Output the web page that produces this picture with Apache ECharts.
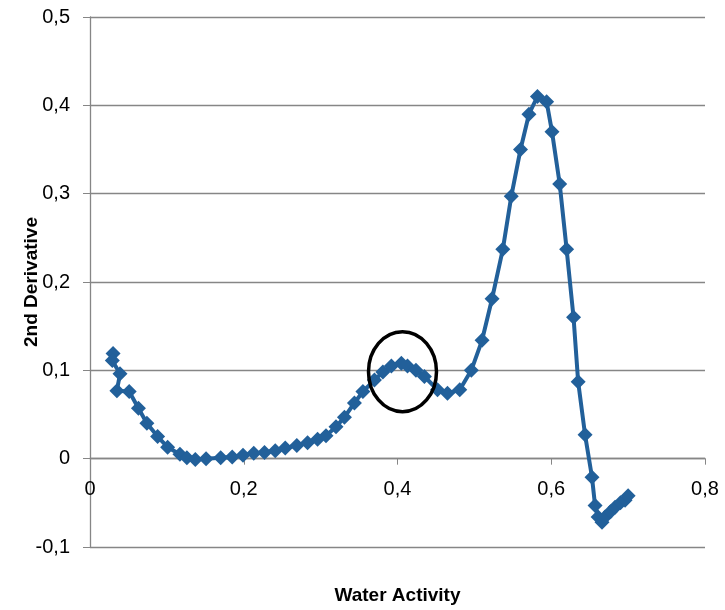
<!DOCTYPE html>
<html>
<head>
<meta charset="utf-8">
<script src="https://cdn.jsdelivr.net/npm/echarts@6/dist/echarts.min.js"></script>
<style>html,body{margin:0;padding:0;background:#fff}#c{width:725px;height:610px}</style>
</head>
<body>
<div id="c"></div>
<script>
var waterActivity = [0.030,0.029,0.039,0.035,0.051,0.063,0.074,0.088,0.101,0.117,0.126,0.137,0.151,0.170,0.185,0.199,0.213,0.227,0.241,0.254,0.269,0.283,0.296,0.307,0.320,0.331,0.344,0.355,0.370,0.381,0.392,0.405,0.413,0.424,0.435,0.452,0.465,0.481,0.496,0.510,0.523,0.537,0.548,0.560,0.571,0.582,0.594,0.601,0.611,0.620,0.629,0.635,0.644,0.653,0.657,0.661,0.666,0.670,0.677,0.683,0.690,0.696,0.700];
var secondDerivative = [0.119,0.111,0.096,0.077,0.076,0.057,0.040,0.025,0.013,0.005,0.001,-0.001,0.000,0.001,0.002,0.004,0.006,0.007,0.009,0.012,0.015,0.018,0.022,0.026,0.036,0.047,0.063,0.076,0.089,0.098,0.105,0.108,0.105,0.100,0.093,0.078,0.074,0.078,0.100,0.134,0.181,0.237,0.297,0.350,0.390,0.410,0.404,0.370,0.311,0.237,0.160,0.087,0.027,-0.021,-0.053,-0.066,-0.072,-0.066,-0.060,-0.055,-0.050,-0.047,-0.042];
var xTicks = {min:0, max:0.8, interval:0.2};
var yTicks = {min:-0.1, max:0.5, interval:0.1};
var circledPoint = [0.4065, 0.0985];

var seriesData = waterActivity.map(function(x,i){return [x, secondDerivative[i]];});
function fmt(v){ var s = (Math.round(v*10)/10).toString(); return s.replace('.', ','); }

var chart = echarts.init(document.getElementById('c'));
var gray = '#868686';
var blue = '#22609A';
chart.setOption({
  animation:false,
  grid:{left:90, right:20, top:17, bottom:63, containLabel:false, outerBoundsMode:'none'},
  xAxis:{
    type:'value', min:xTicks.min, max:xTicks.max, interval:xTicks.interval,
    name:'Water Activity', nameLocation:'middle', nameGap:128,
    nameTextStyle:{fontFamily:'Liberation Sans', fontWeight:'bold', fontSize:19, color:'#000'},
    axisLine:{onZero:false, lineStyle:{color:gray, width:1.3}},
    axisTick:{show:true, length:6, lineStyle:{color:gray}},
    axisLabel:{formatter:fmt, fontFamily:'Liberation Sans', fontSize:20, color:'#000', margin:21},
    splitLine:{show:false}
  },
  yAxis:{
    type:'value', min:yTicks.min, max:yTicks.max, interval:yTicks.interval,
    name:'2nd Derivative', nameLocation:'middle', nameGap:49, nameRotate:90, nameMoveOverlap:false,
    nameTextStyle:{fontFamily:'Liberation Sans', fontWeight:'bold', fontSize:19, color:'#000'},
    axisLine:{show:true, onZero:false, lineStyle:{color:gray, width:1.3}},
    axisTick:{show:true, length:7, lineStyle:{color:gray}},
    axisLabel:{formatter:fmt, fontFamily:'Liberation Sans', fontSize:20, color:'#000', margin:20},
    splitLine:{show:true, lineStyle:{color:gray, width:1.3}}
  },
  series:[{
    type:'line', data:seriesData,
    symbol:'diamond', symbolSize:15,
    itemStyle:{color:blue},
    lineStyle:{color:blue, width:4}
  }]
});
// move the x axis (line, ticks, labels) up to the zero value, as in the source chart
var zeroY = chart.convertToPixel({yAxisIndex:0}, 0);
var bottomY = chart.convertToPixel({yAxisIndex:0}, yTicks.min);
var c = chart.convertToPixel({gridIndex:0}, circledPoint);
chart.setOption({
  xAxis:{offset: zeroY - bottomY},
  graphic:[{type:'ellipse', shape:{cx:c[0], cy:c[1], rx:34, ry:40}, style:{fill:'none', stroke:'#000', lineWidth:3.5}, z:100}]
});
</script>
</body>
</html>
